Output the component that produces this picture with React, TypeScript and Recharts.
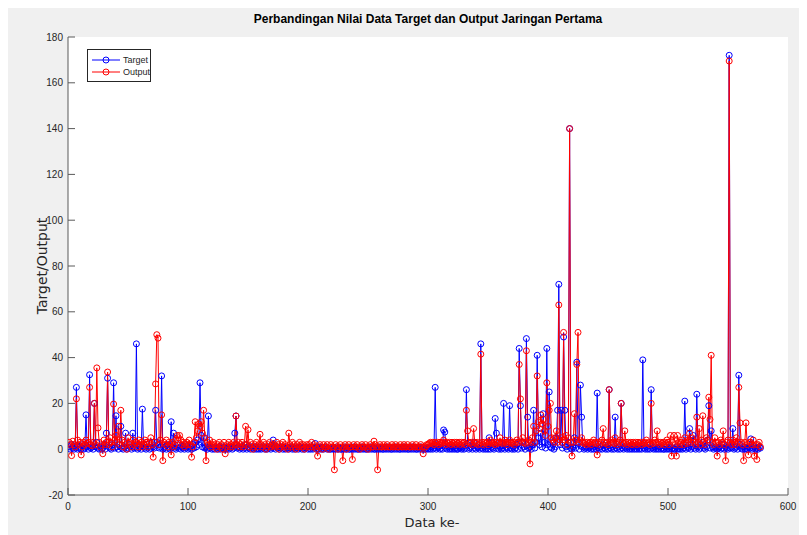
import React from 'react';
import { LineChart, Line, XAxis, YAxis, CartesianGrid, Legend } from 'recharts';

const TITLE = 'Perbandingan Nilai Data Target dan Output Jaringan Pertama';
const X_LABEL = 'Data ke-';
const Y_LABEL = 'Target/Output';
const SERIES_ORDER = ['Target', 'Output'];
const X_TICKS = [0, 100, 200, 300, 400, 500, 600];
const Y_TICKS = [-20, 0, 20, 40, 60, 80, 100, 120, 140, 160, 180];

// Target values, data point 1..577
const TARGET = [
  1, 0, 2, 0.5, 0, 1, 27, 0, 0.5, 1, 0, 2, 0, 0.5, 15, 1, 0, 32.5, 0.5, 1,
  0, 20, 1, 3, 0.5, 0, 1, 0, 0.5, 2, 0, 7, 31, 1, 0.5, 0, 2, 29, 0.5, 14.6,
  1, 0, 2, 10, 0.5, 0, 1, 7, 0, 0.5, 2, 1, 0, 7, 0.5, 1, 46, 0, 0.5, 1,
  0, 17.5, 1, 0.5, 0, 2, 1, 0, 0.5, 3, 1, 0.5, 17, 3, 2, 0.5, 1, 32, 0, 0.5,
  1, 0, 2, 0.5, 0, 12, 1, 7, 0.5, 0, 1, 2, 0.5, 0, 1, 0.5, 0, 2, 1, 0,
  0.5, 1, 0, 2, 0.5, 3, 1, 4, 2, 29, 6, 1, 5, 0.5, 1, 0, 14.5, 0.5, 1, 0,
  0.5, 0, 1, 0.5, 0, 1, 0, 0.5, 1, 0, 0.5, 0, 1, 0, 0.5, 1, 0, 0.5, 7, 14.5,
  0.5, 1, 0, 0.5, 1, 0, 0.5, 2, 0, 1, 0.5, 0, 1, 0.5, 0, 1, 0, 0.5, 0, 1,
  0, 0.5, 1, 0, 0.5, 0, 1, 0.5, 0, 1, 4, 0.5, 0, 1, 0.5, 0, 0.5, 1, 0, 0.5,
  0, 1, 0.5, 0, 0.5, 1, 0, 0.5, 0, 1, 0.5, 0, 0.5, 1, 0, 0.5, 0, 0.5, 1, 0,
  0.5, 0, 1, 0, 0.5, 2.5, 0, 0.5, 0, 1, 0, 0.5, 0, 0.5, 1, 0, 0.5, 0, 0, 0.5,
  0, 0.5, 0, 1, 0, 0.5, 0, 0, 0.5, 0, 1, 0, 0.5, 0, 0, 0.5, 0, 1, 0, 0.5,
  0, 0, 0.5, 0, 1, 0, 0.5, 0, 0, 0.5, 0, 1, 0, 0.5, 0, 0, 0.5, 0, 1, 0,
  0.5, 0, 0, 0.5, 0, 1, 0, 0.5, 0, 0, 0.5, 0, 1, 0, 0.5, 0, 0, 0.5, 0, 1,
  0, 0.5, 0, 0, 0.5, 0, 1, 0, 0.5, 0, 0, 0.5, 0, 1, 0, 0.5, 0, 0, 0.5, 0,
  0.5, 0, 1, 0, 0.5, 27, 0, 0.5, 1, 0, 0.5, 0, 8.4, 7.5, 0.5, 0, 1, 0, 0.5, 0,
  1, 0, 0.5, 0, 0, 1, 0.5, 0, 1, 0, 0.5, 26, 2, 0, 0.5, 1, 0, 3, 0.5, 0,
  1, 0.5, 0, 46, 0.5, 0, 1, 0, 0.5, 0, 5, 0, 1, 0.5, 0, 13.4, 7, 0.5, 0, 1,
  0, 0.5, 20, 0, 1, 0.5, 0, 19, 0.5, 0, 1, 0, 0.5, 2, 0, 44, 19, 0.5, 3, 1,
  0, 48.3, 14, 0.5, 1, 0, 2, 17, 0.5, 3, 41, 5, 2, 7, 1, 15.5, 3, 0.5, 44, 2,
  25, 1, 0.5, 3, 0, 1, 5, 17, 72, 2, 17, 0.5, 49, 17, 1, 0, 3, 140, 0.5, 0,
  1, 5, 0.5, 38, 3, 0, 28, 14, 1, 0, 0.5, 1, 0, 0.5, 1, 0, 0.5, 0, 1, 0,
  24.5, 0.5, 0, 1, 0, 2, 0.5, 0, 1, 0, 26, 0.5, 0, 1, 0, 14, 0.5, 0, 1, 0,
  20, 0.5, 0, 1, 0.5, 0, 1, 0, 0.5, 0, 1, 0, 0.5, 0, 1, 0, 0.5, 0, 39, 0.5,
  0, 1, 0, 0.5, 0, 26, 0.5, 0, 1, 0, 0.5, 0, 1, 0, 0.5, 0, 0, 1, 0, 0.5,
  0, 1, 0, 0.5, 0, 0, 1, 0, 0.5, 0, 1, 0, 0.5, 21, 0, 1, 0.5, 9, 0, 1,
  6, 0.5, 0, 24, 1, 0, 0.5, 2, 3, 0.5, 0, 1, 4, 19, 0.5, 8, 1, 0, 0.5, 1,
  0, 0.5, 1, 0, 0.5, 2, 0, 1, 0.5, 0, 172, 0.5, 1, 9, 0, 0.5, 1, 0, 32.3, 2,
  0.5, 0, 1, 0, 0.5, 0, 1, 0.5, 4.5, 0, 0.5, 1, 0, 0.5, 0, 1, 0.5,
];

// Network output values, data point 1..577
const OUTPUT = [
  3, 2, -2.8, 3.5, 2, 1, 22, 4, 2, 3, -2.5, 1, 3, 2, 4, 2.5, 3, 27, 2, 1.5,
  3, 20, 2, 35.5, 9.3, 3, 1, 2, -2, 4, 2, 3, 33.7, 2, 5, 3, 1, 19.7, 4, 6,
  3, 10, 2, 17, 4, 1, 3, 2, 0, 5, 3, 2, 1, 4, 2, 3, 3, 1, 4, 2,
  3, 1, 2, 4, 3, 2, 1, 3, 5, 2, -3.5, 3, 28.5, 50, 48.5, 2, 4, 15, -5, 3,
  2, 4, 1, 3, 2, -2.5, 3, 1, 2, 4, 6, 5, 6, 4, 2, 3, 1, 2, 3, 2,
  4, 2, -3.5, 1, 3, 12, 5, 8, 11, 10, 12, 7, 17, 5, -5, 3, 2, 4, 1, 2,
  3, 2, 1, 0, 2, 3, 1, 2, 0, 3, -2, 1, 2, 3, 1, 2, 1, 3, 2, 14.5,
  2, 3, 1, 2, 3, 1, 2, 10, 2, 8.5, 1, 3, 2, 0, 1, 2, 3, 1, 2, 6.5,
  2, 1, 3, 2, 0, 1, 2, 3, 1, 2, 1.5, 2, 1, 3, 2, 0, 1, 2, 3, 1,
  2, 1, 0, 7, 2, 1, 3, 2, 1, 0, 2, 1, 3, 2, 1, 2, 0, 1, 2, 1,
  2, 1, 3, 1, 2, 1, 0, -3, 1, 2, 1, 0, 2, 1, 1, 2, 0, 1, 2, 1,
  1, -9, 2, 1, 0, 1, 2, 1, -5, 1, 2, 0, 1, 2, 1, 1, -4.5, 2, 1, 1,
  2, 1, 0, 1, 2, 1, 1, 2, 1, 0, 1, 2, 1, 1, 3.5, 2, 1, -9, 1, 2,
  1, 1, 2, 1, 1, 2, 1, 1, 1, 2, 1, 1, 2, 1, 1, 1, 2, 1, 1, 2,
  1, 1, 2, 1, 1, 1, 2, 1, 1, 2, 1, 1, 1, 2, 1, -2, 1, 1, 2, 2,
  2.5, 3, 2.5, 3, 2, 3, 2.5, 3, 2, 3, 2.5, 3, 4, 3, 2, 3, 2.5, 3, 2, 3,
  2.5, 3, 2, 3, 2.5, 3, 2, 3, 2.5, 3, 2, 17, 8, 3, 2.5, 3, 2, 9, 3, 2.5,
  3, 2, 2.5, 41.5, 3, 2, 3, 2.5, 3, 2, 3, 4, 3, 2.5, 3, 2, 3, 2.5, 3, 5,
  3, 2.5, 3, 4, 3, 2, 3, 4, 3, 2.5, 3, 2, 3, 4, 3, 37, 22, 3, 5, 3,
  2.5, 43, 3, 4, -6.4, 3, 5, 10, 3, 8, 32, 12, 9, 15, 11, 13, 8, 6, 29, 10,
  17, 20, 5, 4, 3, 5, 8, 3, 63, 4, 5, 3, 51, 4, 6, 2, 5, 140, 3, -3,
  3, 15.5, 4, 37, 51, 3, 4, 5, 3, 2.5, 3, 2, 3, 2.5, 3, 2, 3, 4, 3, 2.5,
  -2.5, 3, 2, 3, 4, 9, 3, 2.5, 3, 2, 26, 3, 4, 3, 2.5, 5, 3, 2, 3, 4,
  20, 3, 2.5, 8, 3, 2, 3, 2.5, 3, 2, 3, 2.5, 3, 2, 3, 2.5, 3, 2, 3, 2.5,
  3, 4, 2.5, 3, 2, 20, 3, 2.5, 4, 3, 8, 3, 2, 3, 2.5, 3, 2, 3, 4, 3,
  2, 6, -3, 3, 6, 2, -3, 6, 3, 2, 3, 4, 2, 5, 3, 2.5, 4, 7, 3, 5,
  4, 3, 2, 14, 3, 9, 2, 4, 14.6, 3, 2, 5, 4, 22.7, 13, 41, 3, 2, 5, 3,
  -3, 3, 2, 4, 3, 8, 2, -5, 3, 4, 169.5, 3, 2, 4, 3, 2, 5, 3, 27, 11.5,
  3, 2, -5, 3, 11.5, 2, -2.5, 3, 3, 2, 4, -3, 2, -4.5, 2, 3, 1,
];

const data = TARGET.map((t, i) => ({ x: i + 1, target: t, output: OUTPUT[i] }));

const AXIS_COLOR = '#5a5a5a';
const TEXT_COLOR = '#262626';
const TICK_FONT = { fontFamily: '"Liberation Sans", Arial, sans-serif', fontSize: 10, fill: TEXT_COLOR };
const LABEL_FONT = '"DejaVu Sans", "Liberation Sans", sans-serif';

const renderLegend = (props: any) => {
  const payload = [...(props.payload || [])].sort(
    (a: any, b: any) => SERIES_ORDER.indexOf(a.value) - SERIES_ORDER.indexOf(b.value)
  );
  return (
    <div
      style={{
        border: '1px solid #262626',
        background: '#ffffff',
        width: 64,
        height: 33,
        boxSizing: 'border-box',
        paddingTop: 4,
        paddingLeft: 4,
        fontFamily: '"Liberation Sans", Arial, sans-serif',
        fontSize: 9,
        color: TEXT_COLOR,
      }}
    >
      {payload.map((p: any) => (
        <div key={p.value} style={{ display: 'flex', alignItems: 'center', height: 12 }}>
          <svg width={28} height={10} style={{ display: 'block' }}>
            <line x1={0} y1={5} x2={28} y2={5} stroke={p.color} strokeWidth={1} />
            <circle cx={14} cy={5} r={3} fill="none" stroke={p.color} strokeWidth={1} />
          </svg>
          <span style={{ marginLeft: 3, lineHeight: '12px' }}>{p.value}</span>
        </div>
      ))}
    </div>
  );
};

export default function App() {
  return (
    <div
      style={{
        position: 'relative',
        width: 799,
        height: 530,
        marginTop: -3,
        background: '#f0f0f0',
      }}
    >
      <div
        style={{
          position: 'absolute',
          left: 60,
          width: 720,
          top: 7,
          textAlign: 'center',
          fontFamily: '"Liberation Sans", Arial, sans-serif',
          fontWeight: 'bold',
          fontSize: 12,
          color: '#000',
          lineHeight: '14px',
        }}
      >
        {TITLE}
      </div>
      <LineChart
        width={799}
        height={530}
        data={data}
        margin={{ top: 32, right: 19, bottom: 0, left: 0 }}
      >
        <CartesianGrid horizontal={false} vertical={false} fill="#ffffff" stroke="none" />
        <XAxis
          dataKey="x"
          type="number"
          domain={[0, 600]}
          ticks={X_TICKS}
          allowDataOverflow
          height={40}
          tickSize={-7}
          tickMargin={15}
          stroke={AXIS_COLOR}
          tick={TICK_FONT}
          label={{
            value: X_LABEL,
            position: 'insideBottom',
            offset: 8,
            dx: 4,
            style: { fontFamily: LABEL_FONT, fontSize: 13, fill: TEXT_COLOR },
          }}
        />
        <XAxis
          xAxisId="top"
          orientation="top"
          type="number"
          domain={[0, 600]}
          ticks={X_TICKS}
          allowDataOverflow
          height={0}
          tickSize={-7}
          tickFormatter={() => ''}
          stroke={AXIS_COLOR}
        />
        <YAxis
          type="number"
          domain={[-20, 180]}
          ticks={Y_TICKS}
          allowDataOverflow
          width={60}
          tickSize={-7}
          tickMargin={12}
          stroke={AXIS_COLOR}
          tick={TICK_FONT}
          label={{
            value: Y_LABEL,
            angle: -90,
            position: 'insideLeft',
            offset: 34,
            style: { fontFamily: LABEL_FONT, fontSize: 14, fill: TEXT_COLOR, textAnchor: 'middle' },
          }}
        />
        <YAxis
          yAxisId="right"
          orientation="right"
          type="number"
          domain={[-20, 180]}
          ticks={Y_TICKS}
          allowDataOverflow
          width={0}
          tickSize={-7}
          tickFormatter={() => ''}
          stroke={AXIS_COLOR}
        />
        <Legend
          layout="vertical"
          align="center"
          verticalAlign="middle"
          content={renderLegend}
          wrapperStyle={{ left: 79, top: 44, width: 64, height: 33 }}
        />
        <Line
          type="linear"
          dataKey="target"
          name="Target"
          stroke="#0000ff"
          strokeWidth={1}
          dot={{ r: 3, fill: 'none', stroke: '#0000ff', strokeWidth: 1 }}
          activeDot={false}
          isAnimationActive={false}
        />
        <Line
          type="linear"
          dataKey="output"
          name="Output"
          stroke="#ff0000"
          strokeWidth={1}
          dot={{ r: 3, fill: 'none', stroke: '#ff0000', strokeWidth: 1 }}
          activeDot={false}
          isAnimationActive={false}
        />
      </LineChart>
    </div>
  );
}
